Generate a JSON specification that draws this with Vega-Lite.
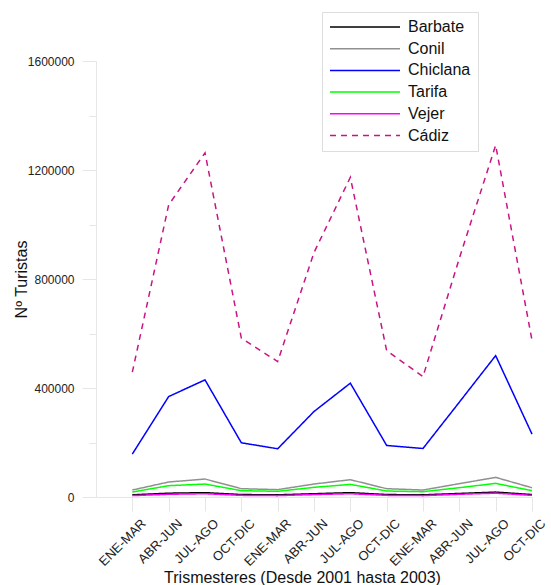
{
  "$schema": "https://vega.github.io/schema/vega-lite/v6.json",
  "autosize": {"type": "none"},
  "padding": {"left": 96, "top": 61, "right": 19, "bottom": 88},
  "width": 436,
  "height": 436,
  "background": "white",
  "config": {"view": {"stroke": null}, "font": "Liberation Sans"},
  "data": {"values": [
    {"city": "Barbate", "t": 1, "v": 8000}, {"city": "Barbate", "t": 2, "v": 14000}, {"city": "Barbate", "t": 3, "v": 16000}, {"city": "Barbate", "t": 4, "v": 9000},
    {"city": "Barbate", "t": 5, "v": 8000}, {"city": "Barbate", "t": 6, "v": 12000}, {"city": "Barbate", "t": 7, "v": 16000}, {"city": "Barbate", "t": 8, "v": 9000},
    {"city": "Barbate", "t": 9, "v": 8000}, {"city": "Barbate", "t": 10, "v": 13000}, {"city": "Barbate", "t": 11, "v": 18000}, {"city": "Barbate", "t": 12, "v": 9000},
    {"city": "Conil", "t": 1, "v": 25600}, {"city": "Conil", "t": 2, "v": 55000}, {"city": "Conil", "t": 3, "v": 66000}, {"city": "Conil", "t": 4, "v": 30500},
    {"city": "Conil", "t": 5, "v": 27000}, {"city": "Conil", "t": 6, "v": 47600}, {"city": "Conil", "t": 7, "v": 63500}, {"city": "Conil", "t": 8, "v": 30500},
    {"city": "Conil", "t": 9, "v": 25600}, {"city": "Conil", "t": 10, "v": 49000}, {"city": "Conil", "t": 11, "v": 72000}, {"city": "Conil", "t": 12, "v": 34000},
    {"city": "Chiclana", "t": 1, "v": 157600}, {"city": "Chiclana", "t": 2, "v": 368600}, {"city": "Chiclana", "t": 3, "v": 429800}, {"city": "Chiclana", "t": 4, "v": 199000},
    {"city": "Chiclana", "t": 5, "v": 177000}, {"city": "Chiclana", "t": 6, "v": 313700}, {"city": "Chiclana", "t": 7, "v": 417700}, {"city": "Chiclana", "t": 8, "v": 189100},
    {"city": "Chiclana", "t": 9, "v": 178100}, {"city": "Chiclana", "t": 10, "v": 348000}, {"city": "Chiclana", "t": 11, "v": 518900}, {"city": "Chiclana", "t": 12, "v": 230800},
    {"city": "Tarifa", "t": 1, "v": 18300}, {"city": "Tarifa", "t": 2, "v": 41500}, {"city": "Tarifa", "t": 3, "v": 47600}, {"city": "Tarifa", "t": 4, "v": 23200},
    {"city": "Tarifa", "t": 5, "v": 20800}, {"city": "Tarifa", "t": 6, "v": 35400}, {"city": "Tarifa", "t": 7, "v": 46400}, {"city": "Tarifa", "t": 8, "v": 22000},
    {"city": "Tarifa", "t": 9, "v": 19500}, {"city": "Tarifa", "t": 10, "v": 34200}, {"city": "Tarifa", "t": 11, "v": 50000}, {"city": "Tarifa", "t": 12, "v": 23200},
    {"city": "Vejer", "t": 1, "v": 5000}, {"city": "Vejer", "t": 2, "v": 10000}, {"city": "Vejer", "t": 3, "v": 12000}, {"city": "Vejer", "t": 4, "v": 6000},
    {"city": "Vejer", "t": 5, "v": 5000}, {"city": "Vejer", "t": 6, "v": 9000}, {"city": "Vejer", "t": 7, "v": 12000}, {"city": "Vejer", "t": 8, "v": 6000},
    {"city": "Vejer", "t": 9, "v": 5000}, {"city": "Vejer", "t": 10, "v": 10000}, {"city": "Vejer", "t": 11, "v": 14000}, {"city": "Vejer", "t": 12, "v": 6000},
    {"city": "Cádiz", "t": 1, "v": 458000}, {"city": "Cádiz", "t": 2, "v": 1072000}, {"city": "Cádiz", "t": 3, "v": 1263000}, {"city": "Cádiz", "t": 4, "v": 583000},
    {"city": "Cádiz", "t": 5, "v": 497000}, {"city": "Cádiz", "t": 6, "v": 897000}, {"city": "Cádiz", "t": 7, "v": 1173000}, {"city": "Cádiz", "t": 8, "v": 537000},
    {"city": "Cádiz", "t": 9, "v": 442000}, {"city": "Cádiz", "t": 10, "v": 876000}, {"city": "Cádiz", "t": 11, "v": 1291000}, {"city": "Cádiz", "t": 12, "v": 575000}
  ]},
  "mark": {"type": "line", "strokeWidth": 1.5},
  "encoding": {
    "x": {
      "field": "t", "type": "quantitative",
      "scale": {"domain": [0, 12], "nice": false, "zero": false},
      "axis": {
        "values": [1, 2, 3, 4, 5, 6, 7, 8, 9, 10, 11, 12],
        "labelExpr": "['ENE-MAR','ABR-JUN','JUL-AGO','OCT-DIC'][(datum.value - 1) % 4]",
        "labelAngle": -45, "labelAlign": "right", "labelBaseline": "middle",
        "labelOverlap": false, "labelBound": false, "labelFlush": false,
        "labelFontSize": 13, "labelColor": "#222222", "labelPadding": 10, "labelOffset": 11,
        "tickSize": 14, "tickColor": "#e6e6e6", "domainColor": "#e6e6e6", "grid": false,
        "title": "Trismesteres (Desde 2001 hasta 2003)",
        "titleFontSize": 16, "titleFontWeight": "normal", "titleColor": "#111111",
        "titleX": 206, "titleY": 85, "titleBaseline": "alphabetic", "titleAlign": "center"
      }
    },
    "y": {
      "field": "v", "type": "quantitative",
      "scale": {"domain": [0, 1600000], "nice": false},
      "axis": {
        "values": [0, 200000, 400000, 600000, 800000, 1000000, 1200000, 1400000, 1600000],
        "format": "d",
        "labelExpr": "datum.value % 400000 === 0 ? datum.label : ''",
        "labelFontSize": 12, "labelColor": "#222222", "labelPadding": 8,
        "tickSize": {"condition": {"test": "datum.value % 400000 === 0", "value": 14}, "value": 7},
        "tickColor": "#e6e6e6", "domainColor": "#e6e6e6", "grid": false,
        "title": "Nº Turistas",
        "titleFontSize": 16, "titleFontWeight": "normal", "titleColor": "#111111",
        "titleX": -70, "titleY": 218, "titleAngle": -90, "titleBaseline": "alphabetic", "titleAlign": "center"
      }
    },
    "color": {
      "field": "city", "type": "nominal",
      "scale": {
        "domain": ["Barbate", "Conil", "Chiclana", "Tarifa", "Vejer", "Cádiz"],
        "range": ["#000000", "#909090", "#0000ff", "#00ff00", "#ff00ff", "#c71585"]
      },
      "legend": {
        "title": null, "orient": "none", "legendX": 226, "legendY": -49,
        "strokeColor": "#dddddd", "fillColor": "white", "padding": 7,
        "symbolType": "stroke", "symbolSize": 4900, "symbolStrokeWidth": 1.5,
        "clipHeight": 16, "rowPadding": 5.7,
        "labelFontSize": 16, "labelColor": "#111111", "labelOffset": 7
      }
    },
    "strokeDash": {
      "field": "city", "type": "nominal",
      "scale": {
        "domain": ["Barbate", "Conil", "Chiclana", "Tarifa", "Vejer", "Cádiz"],
        "range": [[1, 0], [1, 0], [1, 0], [1, 0], [1, 0], [6, 5]]
      },
      "legend": {
        "title": null, "orient": "none", "legendX": 226, "legendY": -49,
        "strokeColor": "#dddddd", "fillColor": "white", "padding": 7,
        "symbolType": "stroke", "symbolSize": 4900, "symbolStrokeWidth": 1.5,
        "clipHeight": 16, "rowPadding": 5.7,
        "labelFontSize": 16, "labelColor": "#111111", "labelOffset": 7
      }
    }
  }
}
